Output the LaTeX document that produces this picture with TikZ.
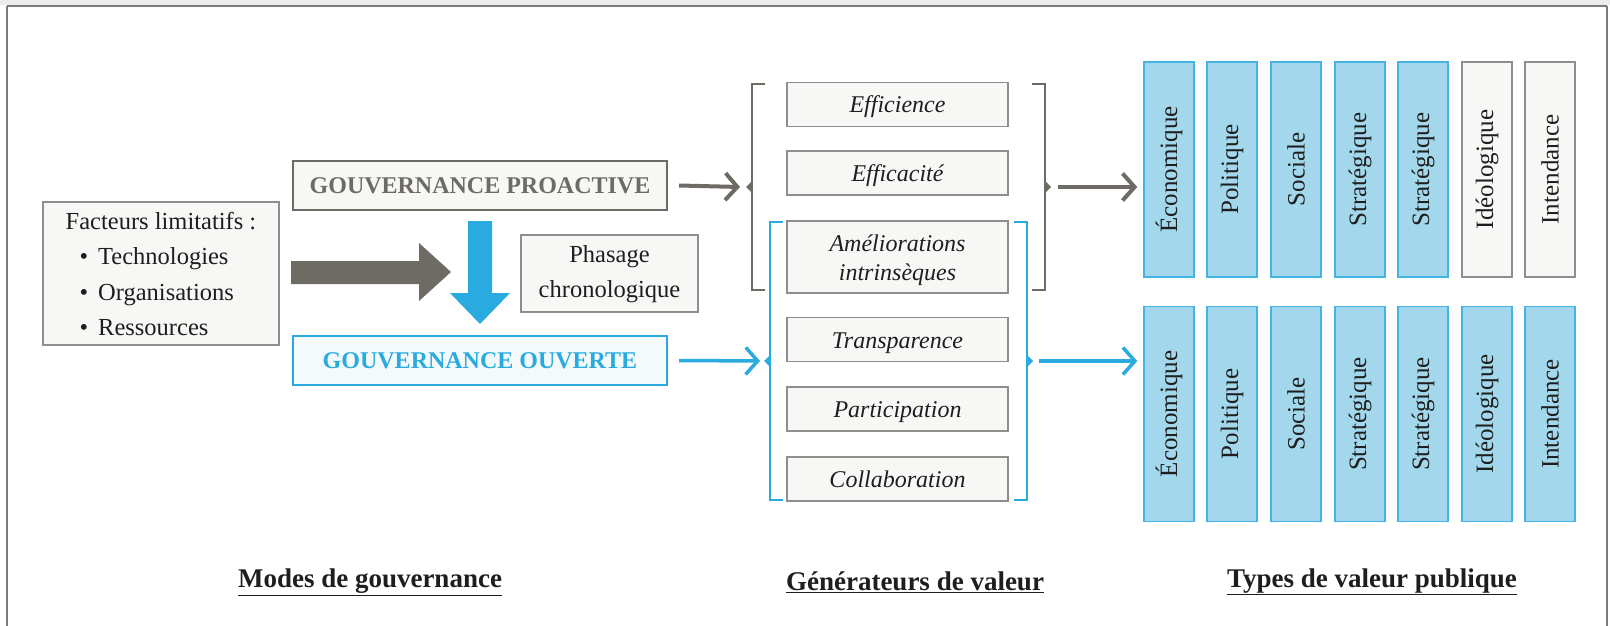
\documentclass[tikz,border=0pt]{standalone}
\usepackage{fontspec}
\setmainfont{Liberation Serif}
\usetikzlibrary{arrows.meta}
\definecolor{grayarrow}{HTML}{6D6B64}
\definecolor{blueline}{HTML}{29ABDF}
\definecolor{boxfill}{HTML}{F7F7F5}
\definecolor{boxdraw}{HTML}{8E8E8C}
\definecolor{colfill}{HTML}{A3D8EC}
\definecolor{coldraw}{HTML}{45B4E2}
\definecolor{ouvfill}{HTML}{F4FAFC}
\definecolor{framecol}{HTML}{7A7A7A}
\definecolor{bandcol}{HTML}{ECECEC}
\definecolor{txtcol}{HTML}{1E1E1E}
\begin{document}
\begin{tikzpicture}[x=1pt,y=-1pt,
  gbox/.style={draw=boxdraw, fill=boxfill, line width=1.5pt, inner sep=0pt},
  gen/.style={gbox, minimum width=221pt, minimum height=44pt, text height=17pt, text depth=0pt, font=\fontsize{24}{29}\selectfont\itshape, text=txtcol},
  bcol/.style={draw=coldraw, fill=colfill, line width=1.5pt, minimum width=215pt, minimum height=50pt, inner sep=0pt, rotate=90, font=\fontsize{25}{30}\selectfont, text=txtcol},
  wcol/.style={bcol, draw=boxdraw, fill=boxfill},
  txt/.style={font=\fontsize{24.5}{29}\selectfont, text=txtcol, inner sep=0pt, anchor=base},
  lbl/.style={font=\fontsize{27}{32}\selectfont\bfseries, text=txtcol, inner sep=0pt},
  garrow/.style={draw=grayarrow, line width=4pt, -{Straight Barb[length=12pt,width=27pt]}},
  barrow/.style={draw=blueline, line width=3.5pt, -{Straight Barb[length=12pt,width=27pt]}},
  gbrack/.style={draw=grayarrow, line width=2pt},
  bbrack/.style={draw=blueline, line width=2pt},
]
\useasboundingbox (0,0) rectangle (1610,626);
\fill[white] (0,0) rectangle (1610,626);
\fill[bandcol] (0,0) rectangle (1610,5);
\draw[framecol, line width=1.5pt] (7,6) -- (1607,6);
\draw[framecol, line width=1.5pt] (7,6) -- (7,640);
\draw[framecol, line width=1.5pt] (1607,6) -- (1607,640);

% Facteurs limitatifs
\node[gbox, minimum width=236pt, minimum height=143pt] (fact) at (161,273.5) {};
\node[txt] (f0) at (161,229) {Facteurs limitatifs :};
\node[txt, anchor=base west] (f1) at (98,264) {Technologies};
\node[txt, anchor=base west] (f2) at (98,300) {Organisations};
\node[txt, anchor=base west] (f3) at (98,335) {Ressources};
\node[txt] (b1) at (84,264) {•};
\node[txt] (b2) at (84,300) {•};
\node[txt] (b3) at (84,335) {•};

% Big gray arrow
\fill[grayarrow] (291,261) -- (419,261) -- (419,243) -- (451,272) -- (419,301) -- (419,284) -- (291,284) -- cycle;

% Governance boxes
\node[draw=grayarrow, fill=boxfill, line width=2pt, minimum width=374pt, minimum height=49pt, inner sep=0pt,
      font=\fontsize{24}{29}\selectfont\bfseries, text=grayarrow] (pro) at (480,185.5) {GOUVERNANCE PROACTIVE};
\node[draw=blueline, fill=ouvfill, line width=2pt, minimum width=374pt, minimum height=49pt, inner sep=0pt,
      font=\fontsize{24}{29}\selectfont\bfseries, text=blueline] (ouv) at (480,360.5) {GOUVERNANCE OUVERTE};

% Blue down arrow
\fill[blueline] (468,221) -- (492,221) -- (492,293) -- (510,293) -- (480,324) -- (450,293) -- (468,293) -- cycle;

% Phasage
\node[gbox, minimum width=177pt, minimum height=77pt] (pha) at (609.5,273.5) {};
\node[txt] (p1) at (609.5,262) {Phasage};
\node[txt] (p2) at (609.5,297) {chronologique};

% Generators
\node[gen] (eff1) at (897.5,104.5) {Efficience};
\node[gen] (eff2) at (897.5,173) {Efficacité};
\node[gbox, minimum width=221pt, minimum height=72pt] (ame) at (897.5,257) {};
\node[txt, font=\fontsize{24}{29}\selectfont\itshape] (ame1) at (897.5,251) {Améliorations};
\node[txt, font=\fontsize{24}{29}\selectfont\itshape] (ame2) at (897.5,280) {intrinsèques};
\node[gen] (tra) at (897.5,339.5) {Transparence};
\node[gen] (par) at (897.5,409) {Participation};
\node[gen] (col) at (897.5,479) {Collaboration};

% Brackets
\draw[gbrack] (765,84) -- (752,84) -- (752,290) -- (765,290);
\fill[grayarrow] (752,181) -- (746,187) -- (752,193) -- cycle;
\draw[gbrack] (1032,84) -- (1045,84) -- (1045,290) -- (1032,290);
\fill[grayarrow] (1045,181) -- (1051,187) -- (1045,193) -- cycle;
\draw[bbrack] (783,222) -- (770,222) -- (770,500) -- (783,500);
\fill[blueline] (770,355) -- (764,361) -- (770,367) -- cycle;
\draw[bbrack] (1014,222) -- (1027,222) -- (1027,500) -- (1014,500);
\fill[blueline] (1027,355) -- (1033,361) -- (1027,367) -- cycle;

\coordinate (gL) at (740,187);
\coordinate (gR0) at (1058,187);
\coordinate (bL) at (760,361);
\coordinate (bR0) at (1039,361);

% Value types
\node[bcol] (a1) at (1169,169.5) {Économique};
\node[bcol] (a2) at (1232,169.5) {Politique};
\node[bcol] (a3) at (1296,169.5) {Sociale};
\node[bcol] (a4) at (1360,169.5) {Stratégique};
\node[bcol] (a5) at (1423,169.5) {Stratégique};
\node[wcol] (a6) at (1487,169.5) {Idéologique};
\node[wcol] (a7) at (1550,169.5) {Intendance};
\node[bcol] (c1) at (1169,414) {Économique};
\node[bcol] (c2) at (1232,414) {Politique};
\node[bcol] (c3) at (1296,414) {Sociale};
\node[bcol] (c4) at (1360,414) {Stratégique};
\node[bcol] (c5) at (1423,414) {Stratégique};
\node[bcol] (c6) at (1487,414) {Idéologique};
\node[bcol] (c7) at (1550,414) {Intendance};

\coordinate (gR1) at ([xshift=-6pt]a1.north |- gR0);
\coordinate (bR1) at ([xshift=-6pt]c1.north |- bR0);

% Connectors
\draw[garrow] ([xshift=11pt]pro.east) -- (gL);
\draw[garrow] (gR0) -- (gR1);
\draw[barrow] ([xshift=11pt]ouv.east) -- (bL);
\draw[barrow] (bR0) -- (bR1);

% Bottom labels
\node[lbl] (m1) at (370,582) {\underline{Modes de gouvernance}};
\node[lbl] (m2) at (915,582) {\underline{Générateurs de valeur}};
\node[lbl] (m3) at (1372,582) {\underline{Types de valeur publique}};
\end{tikzpicture}
\end{document}
